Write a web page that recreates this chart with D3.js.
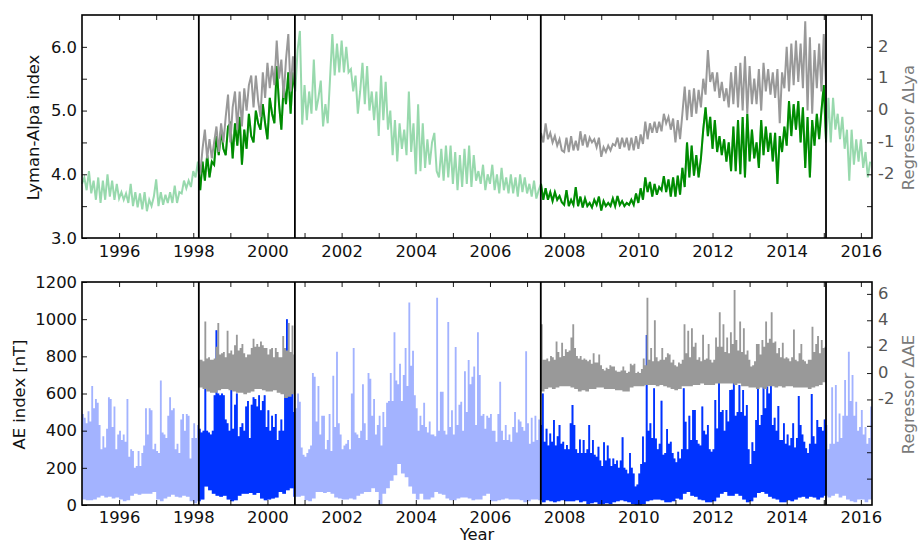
<!DOCTYPE html>
<html>
<head>
<meta charset="utf-8">
<script src="https://cdn.jsdelivr.net/npm/d3@7"></script>
<style>
html, body { margin: 0; padding: 0; background: #fff; }
text { font-family: "DejaVu Sans", sans-serif; }
</style>
</head>
<body>
<div id="chart"></div>
<script>
// --- DATA ---
const dataStart = 1995;
const yearTicks = [1996,1997,1998,1999,2000,2001,2002,2003,2004,2005,2006,2007,2008,2009,2010,2011,2012,2013,2014,2015,2016];
const fitWindows = [[1998.15, 2000.74], [2007.37, 2015.06]];

const lyaTicks = [3, 3.5, 4, 4.5, 5, 5.5, 6];
const lyaLabelled = [3, 4, 5, 6];
const dLyaTicks = [-3, -2, -1, 0, 1, 2];
const dLyaLabelled = [-2, -1, 0, 1, 2];
const aeTicks = [0, 200, 400, 600, 800, 1000, 1200];
const dAeTicks = [-8, -6, -4, -2, 0, 2, 4, 6];
const dAeLabelled = [-2, 0, 2, 4, 6];

// Lyman-Alpha index, 16 samples per year from 1995
const lyaPerYear = 16;
const lyaValues = [
  3.85,3.95,3.75,4.05,3.7,3.9,3.6,3.95,3.55,3.9,3.6,4.0,3.65,3.9,3.6,3.85, // 1995
  3.62,3.72,3.6,3.7,3.55,3.85,3.5,3.72,3.48,3.7,3.45,3.72,3.42,3.6,3.5,3.65, // 1996
  3.92,3.5,3.72,3.52,3.68,3.55,3.72,3.55,3.82,3.55,3.72,3.7,3.9,3.78,3.9,3.8, // 1997
  4.05,3.95,4.2,3.75,4.2,3.9,4.3,3.95,4.2,4.15,4.6,4.3,4.7,4.4,4.3,4.75, // 1998
  4.8,4.25,4.8,4.45,4.9,4.15,4.7,4.4,4.95,4.6,4.5,5.0,4.8,4.7,5.1,4.8, // 1999
  4.55,5.2,4.95,4.8,5.7,5.1,4.7,5.4,5.1,5.6,4.95,5.6,5.3,5.95,6.25,4.78, // 2000
  5.4,4.85,5.3,4.95,5.8,5.0,5.2,5.47,4.75,5.1,4.8,5.5,6.2,5.55,6.05,5.6, // 2001
  6.1,5.6,6.0,5.6,5.65,5.3,5.55,4.95,5.3,5.75,5.1,5.7,5.0,5.3,4.85,5.3, // 2002
  4.6,5.55,4.85,5.45,4.7,5.0,4.3,4.85,4.2,4.8,4.4,4.7,4.3,5.3,4.35,4.8, // 2003
  4.0,5.1,4.05,4.8,4.1,4.55,4.15,4.5,4.65,4.05,3.95,4.4,3.9,4.45,3.95,4.45, // 2004
  3.85,4.35,3.75,4.3,3.8,4.4,3.85,4.45,3.8,4.3,3.9,4.05,3.85,4.15,3.75,4.0, // 2005
  3.85,4.15,3.75,4.0,3.7,4.1,3.75,3.95,3.7,4.0,3.7,3.95,3.65,4.0,3.72,3.95, // 2006
  3.7,3.85,3.65,3.9,3.62,3.75,3.85,3.6,3.78,3.6,3.72,3.58,3.72,3.6,3.66,3.56, // 2007
  3.52,3.75,3.5,3.6,3.52,3.8,3.5,3.65,3.48,3.62,3.5,3.55,3.48,3.6,3.52,3.65, // 2008
  3.43,3.58,3.5,3.55,3.5,3.62,3.5,3.66,3.52,3.58,3.5,3.55,3.52,3.6,3.52,3.7, // 2009
  3.55,3.78,3.6,3.95,3.72,3.88,3.65,3.85,3.68,3.8,3.75,3.97,3.72,3.92,3.65,3.95, // 2010
  3.65,3.98,3.68,4.1,3.8,4.5,3.95,4.45,3.98,4.3,3.95,4.25,4.7,5.05,4.6,4.9, // 2011
  4.4,4.85,4.35,4.6,4.3,4.55,4.2,4.5,4.05,4.75,4.05,4.85,4.0,4.9,3.95,4.95, // 2012
  4.2,4.7,4.25,4.5,4.1,4.85,4.3,4.75,4.35,4.65,4.2,4.65,3.85,4.6,4.35,4.75, // 2013
  4.45,5.15,4.6,5.1,4.7,5.15,4.5,5.05,4.1,4.9,3.95,4.85,4.45,4.95,4.55,5.0, // 2014
  5.4,4.5,5.2,4.5,5.2,4.7,4.95,4.55,4.9,4.4,4.7,3.9,4.7,4.15,4.55,4.2, // 2015
  4.55,4.1,4.35,3.95,4.2 // 2016
];

// Regressor dLya in the two fit windows, same sampling as lyaValues
const dLyaStartA = 1998 + 3 / 16;
const dLyaA = [
  -2.0,-1.2,-0.6,-1.5,-0.9,-1.5,-1.0,-0.5,-1.3,-0.4,-1.0,-0.2,0.5,-1.0,0.1,0.6,
  -0.6,0.6,-0.5,0.7,0,0.8,1.1,0.1,1.1,0.3,-0.2,1.2,0.4,1.5,0.7,1.4,
  0.8,2.2,1.0,1.6,0.4,1.6,2.4,0.6,1.7,0.7,1.8
];
const dLyaStartB = 2007 + 6 / 16;
const dLyaB = [
  -0.7,-1.0,-0.4,-0.9,-0.7,-1.0,-0.8,-1.1,-0.9,-1.25, // 2007
  -1.3,-0.85,-1.3,-0.8,-1.25,-0.95,-1.25,-0.65,-1.1,-0.75,-1.15,-0.85,-1.0,-0.9,-1.15,-0.85, // 2008
  -1.45,-1.15,-1.3,-1.1,-1.25,-1.05,-1.1,-0.85,-1.2,-0.85,-1.15,-0.85,-1.25,-0.85,-1.25,-0.8, // 2009
  -1.2,-0.75,-1.05,-0.35,-0.9,-0.4,-0.7,-0.35,-0.7,-0.35,-0.65,-0.1,-0.4,-0.2,-0.6,-0.25, // 2010
  -1.0,-0.3,-0.9,-0.1,0.75,-0.3,0.65,-0.2,0.7,-0.1,0.65,0.1,1.0,0.5,1.9,0.9, // 2011
  1.2,0.6,1.2,0.4,0.9,0.3,0.7,0.1,1.2,0.2,1.4,0.1,1.5,0,1.7,-0.1, // 2012
  1.4,0.2,1.0,0.2,1.3,0,1.5,0.6,1.3,0.5,1.2,0.4,1.3,-0.4,1.2,0.7, // 2013
  2.0,0.6,2.1,0.8,2.2,0.9,2.1,0.7,2.8,0.0,2.3,-0.1,1.9,0.7,2.1,0.6, // 2014
  2.4,0.7 // 2015
];

// AE index upper envelope, 20 samples per year from 1995
const aePerYear = 20;
const aeUpper = [
  490,470,440,505,450,640,520,570,550,430,300,370,310,410,580,570,420,530,300,380, // 1995
  400,350,380,340,570,260,300,290,200,210,290,210,280,320,520,380,520,510,300,330, // 1996
  290,280,670,390,380,360,480,580,510,520,300,330,280,460,490,400,490,480,250,360, // 1997
  440,360,430,410,390,400,660,400,390,380,400,590,940,600,590,600,590,460,440,400, // 1998
  640,410,540,600,370,420,440,400,530,560,360,540,580,570,530,590,510,560,590,420, // 1999
  510,400,480,420,490,350,400,460,400,690,1000,660,650,680,500,520,600,555,310,270, // 2000
  260,280,300,320,710,690,450,640,380,480,480,300,350,490,290,695,420,825,440,380, // 2001
  300,320,330,350,300,600,845,390,380,360,400,650,440,350,710,680,480,570,380,430, // 2002
  480,320,500,420,550,560,710,560,930,670,650,760,560,700,845,640,1090,750,830,590, // 2003
  520,400,480,430,550,420,390,450,380,380,370,1115,400,610,610,400,380,985,420,510, // 2004
  380,850,430,540,555,400,720,500,780,650,690,745,430,930,700,480,490,410,480,470, // 2005
  490,400,400,340,490,663,400,350,430,350,380,340,420,500,390,460,450,420,400,828, // 2006
  440,330,470,340,480,350,460,430,600,340,410,320,385,340,457,320,370,430,330,340, // 2007
  300,323,300,440,538,430,300,280,353,280,350,280,300,430,280,350,270,260,314,240, // 2008
  210,337,240,320,250,210,250,220,240,200,240,364,200,190,170,280,200,170,100,110, // 2009
  170,220,368,230,915,400,440,360,628,358,300,330,561,270,280,409,330,340,280,250, // 2010
  230,287,250,300,628,448,300,480,350,511,511,350,330,320,530,400,380,430,300,287, // 2011
  300,565,412,712,500,511,400,511,450,619,620,700,480,500,646,500,619,480,538,300, // 2012
  220,337,290,457,633,430,484,646,520,637,600,646,430,470,400,533,350,350,440,330, // 2013
  380,320,360,440,310,360,587,430,380,340,305,280,330,597,370,330,457,420,420,400, // 2014
  460,430,300,330,633,330,646,340,493,360,480,673,480,825,560,700,480,556,400,420, // 2015
  511,380,420,330,360,530,440 // 2016
];
// AE index lower envelope, 10 samples per year from 1995
const aeLower = [
  30,25,25,30,40,50,40,45,35,40, // 1995
  30,20,25,50,60,55,60,60,60,70, // 1996
  30,20,35,45,55,45,40,50,45,20, // 1997
  10,20,30,100,80,60,50,45,50,30, // 1998
  20,25,50,60,60,65,55,65,35,25, // 1999
  30,35,40,70,60,80,90,45,45,50, // 2000
  25,20,35,70,70,65,70,60,40,35, // 2001
  30,30,35,30,50,60,70,70,90,70, // 2002
  5,60,90,130,160,220,170,150,100,60, // 2003
  30,60,30,30,40,70,60,55,35,25, // 2004
  25,35,40,40,35,25,30,30,50,60, // 2005
  20,20,25,30,35,30,30,30,25,15, // 2006
  20,30,30,25,15,25,20,15,20,25, // 2007
  20,20,20,25,15,20,5,10,15,5, // 2008
  5,10,5,15,20,25,20,15,5,0, // 2009
  0,5,20,25,30,30,25,15,15,20, // 2010
  35,30,60,70,50,45,30,25,15,15, // 2011
  20,40,60,70,50,50,60,50,30,15, // 2012
  20,40,65,70,60,45,35,30,15,15, // 2013
  25,20,30,40,45,35,45,40,30,40, // 2014
  50,40,50,60,40,50,30,20,15,30, // 2015
  30,15,30,30 // 2016
];

// Regressor dAE envelopes in the two fit windows: upper 20 per year, lower 10 per year
const dAeUpperA = [
  1.0,1.0,0.9,3.9,1.1,1.2,1.0,1.0,1.1,2.0,3.8,1.4,1.5,1.6,1.2,3.2,1.5,1.7,1.4,2.1,
  2.9,1.7,1.9,2.2,1.5,1.2,1.4,1.4,1.9,2.6,2.0,2.2,2.0,2.4,2.1,1.9,1.9,1.4,1.8,1.9,
  1.2,1.9,1.6,1.2,1.2,2.8,1.9,1.7,3.8,1.6,3.6,1.4,1.1
];
const dAeLowerA = [
  -1.1,-1.2,-1.4,-1.5,-1.5,-1.3,-1.2,-1.2,-1.3,-1.4,-1.5,-1.5,-1.6,
  -1.5,-1.4,-1.2,-1.2,-1.3,-1.4,-1.4,-1.3,-1.5,-1.6,-1.9,-1.8,-1.6
];
const dAeUpperB = [
  3.7,1.0,1.0,1.1,0.9,1.3,1.2,1.0,2.4,1.6,1.2,2.3,1.3, // 2007
  1.8,1.6,1.7,2.7,3.7,1.9,1.3,1.1,1.3,1.0,1.1,1.0,0.9,1.0,0.7,1.5,0.8,0.8,1.4,0.6, // 2008
  0.3,0.2,0.4,0.3,0.6,0.5,0.5,0.2,0.1,0.1,0.2,0.5,0.2,0.0,0.1,0.7,0.6,0.7,0.0,0.1, // 2009
  0.0,0.3,1.1,0.6,5.7,1.0,1.9,0.9,4.0,1.2,0.9,1.0,1.9,1.0,1.2,1.5,1.4,0.8,1.0,0.6, // 2010
  0.5,0.8,0.7,1.0,3.7,1.5,3.2,1.2,3.4,2.0,2.3,1.0,1.2,0.9,2.9,1.0,1.1,2.2,1.0,0.8, // 2011
  1.0,2.7,2.0,4.6,2.0,3.7,1.6,2.7,1.5,3.1,2.2,6.3,2.5,1.7,3.9,1.6,3.4,1.4,1.7,1.0, // 2012
  0.5,0.6,0.9,2.2,2.2,1.4,2.5,2.0,3.9,2.3,2.6,4.6,2.3,2.4,1.5,1.9,1.2,2.3,1.1,1.2, // 2013
  1.1,0.9,1.2,3.3,1.0,0.9,1.5,2.2,1.0,0.9,0.7,1.0,1.0,3.5,1.6,2.2,2.8,1.5,2.5,1.9, // 2014
  2.0,1.0 // 2015
];
const dAeLowerB = [
  -1.4,-1.2,-1.1,-1.2,-1.1,-1.0, // 2007
  -1.0,-1.0,-1.1,-1.2,-1.4,-1.3,-1.4,-1.2,-1.2,-1.1, // 2008
  -1.1,-1.2,-1.2,-1.2,-1.3,-1.3,-1.4,-1.4,-1.1,-1.0, // 2009
  -1.0,-1.0,-0.9,-0.9,-0.9,-1.0,-0.9,-1.0,-1.1,-1.2, // 2010
  -1.3,-1.2,-1.0,-1.0,-1.0,-0.9,-0.9,-0.8,-0.9,-0.9, // 2011
  -0.9,-0.8,-0.8,-0.8,-0.8,-0.8,-0.9,-0.8,-1.0,-1.0, // 2012
  -1.1,-1.1,-1.2,-1.1,-1.2,-1.0,-1.0,-1.1,-1.0,-1.1, // 2013
  -1.0,-1.0,-1.1,-1.1,-1.1,-1.1,-1.2,-1.1,-1.0,-0.9, // 2014
  -0.7 // 2015
];

// --- LAYOUT ---
const width = 918, height = 544;
const left = 82, right = 872;
const fontSize = 16.4;
const lineWidth = 2;
const colors = { lyaLight: "#98d9ad", lyaDark: "#008c00", aeLight: "#a3b3ff", aeDark: "#0033ff", reg: "#999999", regText: "#555555", regTitle: "#7a7a7a" };

const svg = d3.select("#chart").append("svg").attr("width", width).attr("height", height).style("display", "block");
const x = d3.scaleLinear().domain([1995, 2016.3]).range([left, right]);

function addClip(id, top, bottom, spans) {
  const clip = svg.append("defs").append("clipPath").attr("id", id);
  spans.forEach(s => clip.append("rect").attr("x", x(s[0])).attr("y", top).attr("width", x(s[1]) - x(s[0])).attr("height", bottom - top));
}

function drawFrame(top, bottom, yLeft, yRight, opts) {
  const xBottom = d3.axisBottom(x).tickValues(yearTicks).tickSize(-5).tickPadding(opts.xPad)
    .tickFormat(d => d % 2 === 0 ? d : "");
  const xTop = d3.axisTop(x).tickValues(yearTicks).tickSize(-5).tickFormat("");
  const axLeft = d3.axisLeft(yLeft).tickValues(opts.leftTicks).tickSize(-5).tickPadding(5)
    .tickFormat(d => opts.leftFormat(d));
  const axRight = d3.axisRight(yRight).tickValues(opts.rightTicks).tickSize(-5).tickPadding(6)
    .tickFormat(d => opts.rightLabelled.includes(d) ? String(d) : "");

  // vertical lines for the fit windows
  fitWindows.flat().forEach(v => {
    svg.append("line").attr("x1", x(v)).attr("x2", x(v)).attr("y1", top).attr("y2", bottom)
      .attr("stroke", "#000").attr("stroke-width", 1.8);
  });

  const gB = svg.append("g").attr("transform", `translate(0,${bottom})`).call(xBottom);
  const gT = svg.append("g").attr("transform", `translate(0,${top})`).call(xTop);
  const gL = svg.append("g").attr("transform", `translate(${left},0)`).call(axLeft);
  const gR = svg.append("g").attr("transform", `translate(${right},0)`).call(axRight);
  [gB, gT, gL, gR].forEach(g => {
    g.select(".domain").remove();
    g.selectAll("line").attr("stroke", "#000").attr("stroke-width", 0.9);
    g.selectAll("text").attr("font-size", fontSize).attr("font-family", "DejaVu Sans").attr("fill", "#111");
  });
  gR.selectAll("text").attr("fill", colors.regText).attr("dy", "0.26em");

  svg.append("rect").attr("x", left).attr("y", top).attr("width", right - left).attr("height", bottom - top)
    .attr("fill", "none").attr("stroke", "#000").attr("stroke-width", 1.6);

  svg.append("text").attr("transform", `translate(${opts.leftTitleX},${(top + bottom) / 2 + 1}) rotate(-90)`)
    .attr("text-anchor", "middle").attr("font-size", fontSize).attr("fill", "#111").text(opts.leftTitle);
  svg.append("text").attr("transform", `translate(914,${(top + bottom) / 2 + 1}) rotate(-90)`)
    .attr("text-anchor", "middle").attr("font-size", fontSize).attr("fill", colors.regTitle).text(opts.rightTitle);
}

// --- TOP PANEL ---
const topBox = { top: 15, bottom: 238 };
const yLya = d3.scaleLinear().domain([3, 6.5]).range([topBox.bottom, topBox.top]);
const yDLya = d3.scaleLinear().domain([-4, 3]).range([topBox.bottom, topBox.top]);
addClip("clip-lya", topBox.top, topBox.bottom, fitWindows);

const lyaPts = lyaValues.map((v, i) => [dataStart + i / lyaPerYear, v]);
const lyaLine = d3.line().x(d => x(d[0])).y(d => yLya(d[1]));
const dLyaLine = d3.line().x(d => x(d[0])).y(d => yDLya(d[1]));

svg.append("path").attr("d", lyaLine(lyaPts)).attr("fill", "none").attr("stroke", colors.lyaLight).attr("stroke-width", lineWidth);
svg.append("path").attr("d", lyaLine(lyaPts)).attr("fill", "none").attr("stroke", colors.lyaDark).attr("stroke-width", lineWidth).attr("clip-path", "url(#clip-lya)");
[[dLyaStartA, dLyaA], [dLyaStartB, dLyaB]].forEach(([start, vals]) => {
  const pts = vals.map((v, i) => [start + i / lyaPerYear, v]);
  svg.append("path").attr("d", dLyaLine(pts)).attr("fill", "none").attr("stroke", colors.reg).attr("stroke-width", lineWidth).attr("clip-path", "url(#clip-lya)");
});

drawFrame(topBox.top, topBox.bottom, yLya, yDLya, {
  xPad: 7.5,
  leftTicks: lyaTicks,
  leftFormat: d => lyaLabelled.includes(d) ? d.toFixed(1) : "",
  rightTicks: dLyaTicks,
  rightLabelled: dLyaLabelled,
  leftTitle: "Lyman-Alpa index",
  leftTitleX: 39,
  rightTitle: "Regressor ΔLya"
});

// --- BOTTOM PANEL ---
const botBox = { top: 282, bottom: 505 };
const yAe = d3.scaleLinear().domain([0, 1200]).range([botBox.bottom, botBox.top]);
const yDAe = d3.scaleLinear().domain([-10, 6.9]).range([botBox.bottom, botBox.top]);
addClip("clip-ae", botBox.top, botBox.bottom, fitWindows);

function bandPoints(start, upper, lower) {
  return upper.map((u, i) => ({
    t: start + i / aePerYear,
    hi: u,
    lo: lower[Math.min(Math.floor(i / 2), lower.length - 1)]
  }));
}
// step curve keeps the spikes narrow, like the daily values they stand for
const aeBand = d3.area().curve(d3.curveStepAfter).x(d => x(d.t)).y0(d => yAe(d.lo)).y1(d => yAe(d.hi));
const dAeBand = d3.area().curve(d3.curveStepAfter).x(d => x(d.t)).y0(d => yDAe(d.lo)).y1(d => yDAe(d.hi));
const aePts = bandPoints(dataStart, aeUpper, aeLower);

svg.append("path").attr("d", aeBand(aePts)).attr("fill", colors.aeLight);
svg.append("path").attr("d", aeBand(aePts)).attr("fill", colors.aeDark).attr("clip-path", "url(#clip-ae)");
[[1998.15, dAeUpperA, dAeLowerA], [2007.37, dAeUpperB, dAeLowerB]].forEach(([start, up, lo]) => {
  svg.append("path").attr("d", dAeBand(bandPoints(start, up, lo))).attr("fill", colors.reg).attr("clip-path", "url(#clip-ae)");
});

drawFrame(botBox.top, botBox.bottom, yAe, yDAe, {
  xPad: 6,
  leftTicks: aeTicks,
  leftFormat: d => d,
  rightTicks: dAeTicks,
  rightLabelled: dAeLabelled,
  leftTitle: "AE index [nT]",
  leftTitleX: 25,
  rightTitle: "Regressor ΔAE"
});

svg.append("text").attr("x", x(2005.65)).attr("y", 540).attr("text-anchor", "middle")
  .attr("font-size", fontSize).attr("fill", "#111").text("Year");
</script>
</body>
</html>
